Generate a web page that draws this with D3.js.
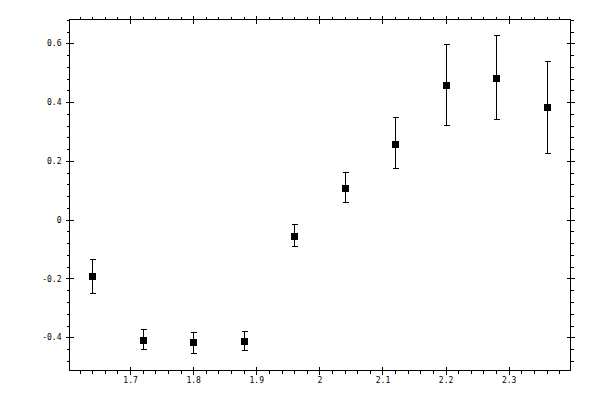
<!DOCTYPE html>
<html>
<head>
<meta charset="utf-8">
<script src="https://cdn.jsdelivr.net/npm/d3@7"></script>
<style>
  body { margin: 0; background: #fff; }
</style>
</head>
<body>
<div class="canvas"></div>
<script>
// data
const xValues = [1.64, 1.72, 1.80, 1.88, 1.96, 2.04, 2.12, 2.20, 2.28, 2.36]
const yValues = [-0.193, -0.408, -0.417, -0.414, -0.054, 0.108, 0.258, 0.458, 0.481, 0.383]
const yLower = [-0.251, -0.441, -0.454, -0.446, -0.091, 0.058, 0.173, 0.322, 0.340, 0.224]
const yUpper = [-0.136, -0.372, -0.383, -0.380, -0.017, 0.159, 0.347, 0.597, 0.625, 0.539]
const xTicks = [1.7, 1.8, 1.9, 2.0, 2.1, 2.2, 2.3]
const yTicks = [-0.4, -0.2, 0, 0.2, 0.4, 0.6]
const xMinor = [1.62, 1.64, 1.66, 1.68, 1.72, 1.74, 1.76, 1.78, 1.82, 1.84, 1.86, 1.88,
  1.92, 1.94, 1.96, 1.98, 2.02, 2.04, 2.06, 2.08, 2.12, 2.14, 2.16, 2.18,
  2.22, 2.24, 2.26, 2.28, 2.32, 2.34, 2.36, 2.38]
const yMinor = [-0.48, -0.44, -0.36, -0.32, -0.28, -0.24, -0.16, -0.12, -0.08, -0.04,
  0.04, 0.08, 0.12, 0.16, 0.24, 0.28, 0.32, 0.36, 0.44, 0.48, 0.52, 0.56, 0.64, 0.68]

const data = xValues.map((x, i) => ({ x, y: yValues[i], lo: yLower[i], hi: yUpper[i] }))

const svg = d3.select('.canvas').append('svg')
  .attr('width', 600)
  .attr('height', 400)
  .attr('shape-rendering', 'crispEdges')

const plot = { left: 69.5, right: 570.5, top: 19.5, bottom: 370.5 }

const x = d3.scaleLinear()
  .domain([1.604, 2.398])
  .range([plot.left, plot.right])

const y = d3.scaleLinear()
  .domain([-0.513, 0.681])
  .range([plot.bottom, plot.top])

const fmt = d => String(+d.toFixed(2))

// frame
svg.append('rect')
  .attr('x', plot.left).attr('y', plot.top)
  .attr('width', plot.right - plot.left).attr('height', plot.bottom - plot.top)
  .attr('fill', 'none')
  .attr('stroke', '#000')

// one side of the frame: major ticks cross the line, minor ticks point out
const axisSide = (axisFn, scale, transform, majors, minors, labels, pad) => {
  const g = svg.append('g').attr('transform', transform)
  g.append('g').call(axisFn(scale).tickValues(majors).tickSizeOuter(0)
    .tickSize(4).tickPadding(pad).tickFormat(labels ? fmt : ''))
  g.append('g').call(axisFn(scale).tickValues(majors).tickSizeOuter(0)
    .tickSize(-4).tickFormat(''))
  g.append('g').call(axisFn(scale).tickValues(minors).tickSizeOuter(0)
    .tickSize(3).tickFormat(''))
  g.selectAll('.domain').remove()
  g.selectAll('text')
    .attr('fill', '#000')
    .style('font-family', "'DejaVu Sans Mono', monospace")
    .style('font-size', '8px')
}

axisSide(d3.axisBottom, x, `translate(0,${plot.bottom})`, xTicks, xMinor, true, 3)
axisSide(d3.axisTop, x, `translate(0,${plot.top})`, xTicks, xMinor, false, 3)
axisSide(d3.axisLeft, y, `translate(${plot.left},0)`, yTicks, yMinor, true, 4)
axisSide(d3.axisRight, y, `translate(${plot.right},0)`, yTicks, yMinor, false, 4)

// error bars
const bars = svg.append('g')
  .attr('stroke', '#000')
  .attr('stroke-width', 1)

bars.selectAll('line.v')
  .data(data)
  .enter().append('line')
  .attr('class', 'v')
  .attr('x1', d => Math.round(x(d.x)) + 0.5)
  .attr('x2', d => Math.round(x(d.x)) + 0.5)
  .attr('y1', d => y(d.lo))
  .attr('y2', d => y(d.hi))

bars.selectAll('line.hi')
  .data(data)
  .enter().append('line')
  .attr('class', 'hi')
  .attr('x1', d => Math.round(x(d.x)) - 2.5)
  .attr('x2', d => Math.round(x(d.x)) + 3.5)
  .attr('y1', d => y(d.hi))
  .attr('y2', d => y(d.hi))

bars.selectAll('line.lo')
  .data(data)
  .enter().append('line')
  .attr('class', 'lo')
  .attr('x1', d => Math.round(x(d.x)) - 2.5)
  .attr('x2', d => Math.round(x(d.x)) + 3.5)
  .attr('y1', d => y(d.lo))
  .attr('y2', d => y(d.lo))

// square markers
svg.append('g').selectAll('rect')
  .data(data)
  .enter().append('rect')
  .attr('x', d => Math.round(x(d.x)) - 3)
  .attr('y', d => Math.round(y(d.y)) - 3)
  .attr('width', 7)
  .attr('height', 7)
  .attr('fill', '#000')
</script>
</body>
</html>
